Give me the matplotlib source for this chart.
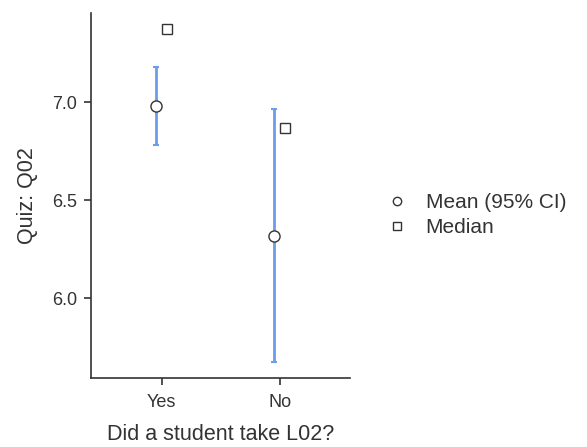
import matplotlib.pyplot as plt
import numpy as np

plt.rcParams['font.family'] = ['Liberation Sans', 'DejaVu Sans']

# Datos
groups = ['Yes', 'No']
means = [6.98, 6.316]
ci_low = [6.784, 5.676]
ci_high = [7.177, 6.964]
medians = [7.371, 6.869]

x = np.arange(1, len(groups) + 1)
means = np.array(means)
yerr = np.array([means - np.array(ci_low), np.array(ci_high) - means])

fig = plt.figure(figsize=(5.87, 4.47), dpi=100)
ax = fig.add_axes([91 / 587, 1 - 378 / 447, (350 - 91) / 587, (378 - 13) / 447])

ax.errorbar(x - 0.053, means, yerr=yerr, fmt='none', ecolor='#6B9DE8',
            elinewidth=2, capsize=2.5, capthick=1.5, zorder=2)
h_mean, = ax.plot(x - 0.053, means, 'o', ms=8, mfc='white', mec='#333333',
                  mew=1, linestyle='none', zorder=3, label='Mean (95% CI)')
h_med, = ax.plot(x + 0.047, medians, 's', ms=7, mfc='white', mec='#333333',
                 mew=1, linestyle='none', zorder=3, label='Median')

ax.set_xlim(0.4, 2.595)
ax.set_ylim(5.595, 7.454)
ax.set_xticks(x)
ax.set_xticklabels(groups)
ax.set_yticks([6.0, 6.5, 7.0])
ax.set_yticklabels(['6.0', '6.5', '7.0'])

ax.tick_params(axis='both', labelsize=13, colors='#333333', length=5, width=1.2)
ax.tick_params(axis='x', pad=6.5)
ax.tick_params(axis='y', pad=5)
for s in ['top', 'right']:
    ax.spines[s].set_visible(False)
for s in ['left', 'bottom']:
    ax.spines[s].set_color('#333333')
    ax.spines[s].set_linewidth(1.2)

ax.set_xlabel('Did a student take L02?', fontsize=15.5, color='#333333', labelpad=9.5)
ax.set_ylabel('Quiz: Q02', fontsize=15.5, color='#333333', labelpad=10)

leg = fig.legend(handles=[h_mean, h_med], loc='center left',
                 bbox_to_anchor=(376.6 / 587, 1 - 215 / 447), frameon=False,
                 fontsize=15, handlelength=1, handletextpad=0.85,
                 labelspacing=0.3, markerscale=0.75, borderpad=0)
for t in leg.get_texts():
    t.set_color('#333333')

plt.savefig('out.png', dpi=100)
